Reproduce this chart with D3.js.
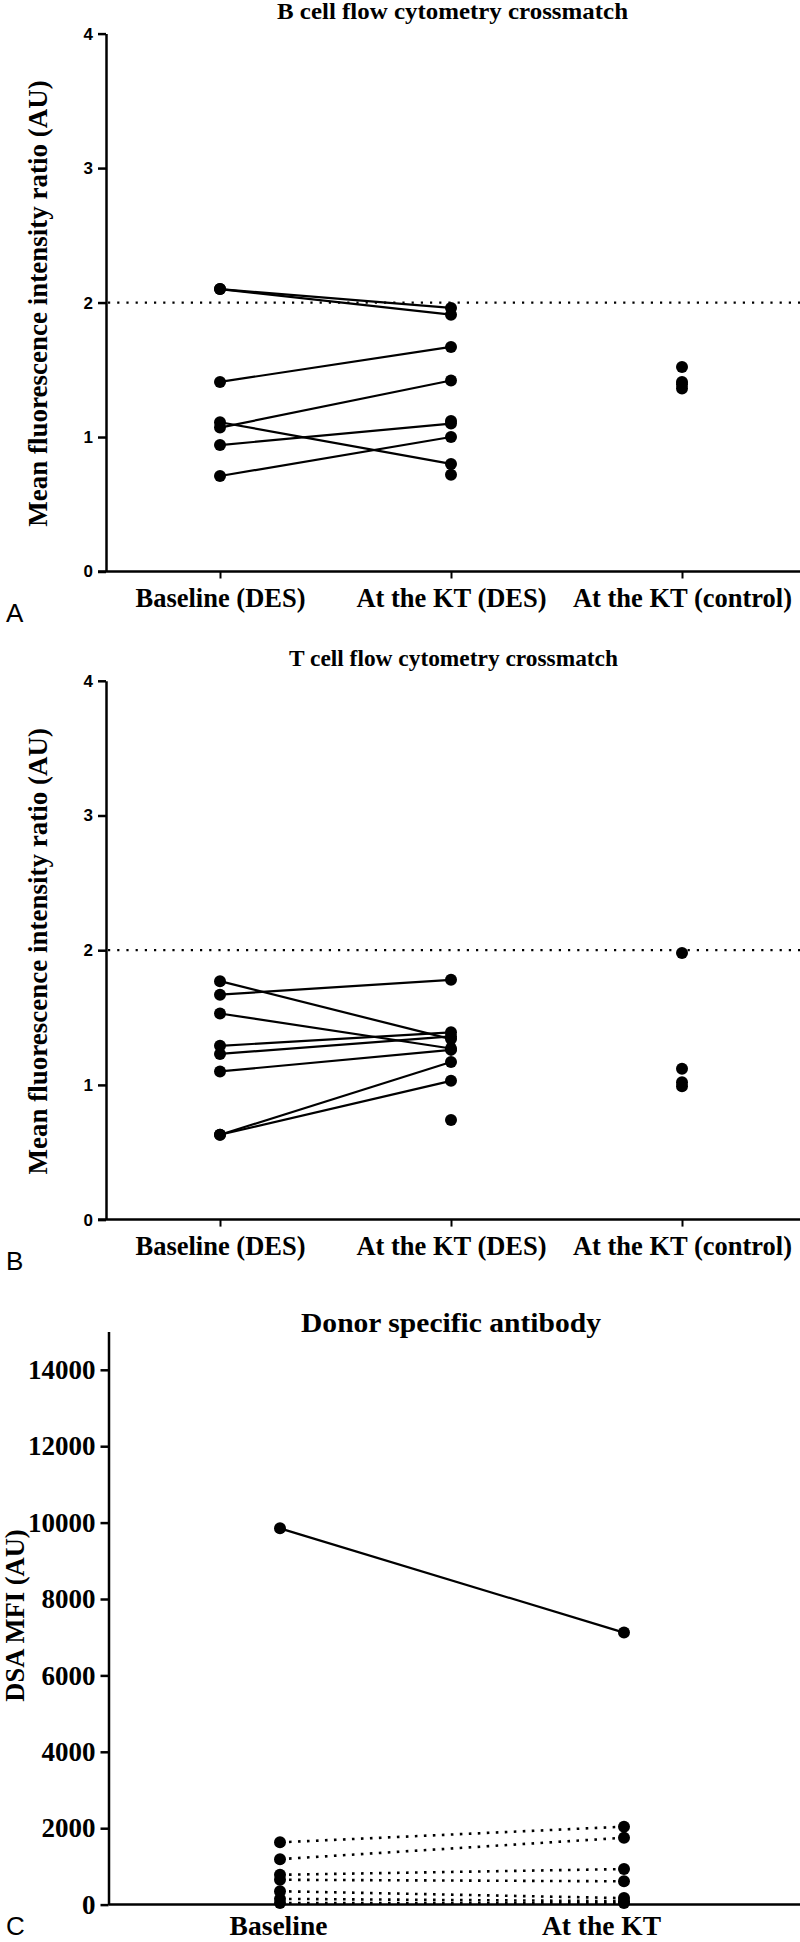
<!DOCTYPE html>
<html>
<head>
<meta charset="utf-8">
<script src="https://cdn.jsdelivr.net/npm/d3@7"></script>
<style>
  html, body { margin: 0; padding: 0; background: #fff; }
  svg { display: block; }
</style>
</head>
<body>
<svg id="chart" width="800" height="1942"></svg>
<script>
// ---------- Data ----------
const ratioCategories = ["Baseline (DES)", "At the KT (DES)", "At the KT (control)"];
const ratioTicks = [0, 1, 2, 3, 4];
const ratioThreshold = 2;

// Panel A: B cell flow cytometry crossmatch (paired DES patients)
const bCellBaseline = [2.10, 2.10, 1.41, 1.07, 1.11, 0.94, 0.71];
const bCellAtKT     = [1.96, 1.91, 1.67, 1.42, 0.80, 1.10, 1.00];
const bCellAtKTUnpaired = [1.12, 0.72];
const bCellControl  = [1.52, 1.41, 1.39, 1.36];

// Panel B: T cell flow cytometry crossmatch
const tCellBaseline = [1.67, 1.77, 1.53, 1.29, 1.23, 1.10, 0.63, 0.63];
const tCellAtKT     = [1.78, 1.34, 1.27, 1.39, 1.36, 1.26, 1.17, 1.03];
const tCellAtKTUnpaired = [0.74];
const tCellControl  = [1.98, 1.12, 1.02, 0.99];

// Panel C: Donor specific antibody
const dsaCategories = ["Baseline", "At the KT"];
const dsaTicks = [0, 2000, 4000, 6000, 8000, 10000, 12000, 14000];
const dsaBaseline = [9850, 1630, 1190, 780, 650, 350, 150, 40];
const dsaAtKT     = [7120, 2040, 1750, 930, 610, 170, 90, 40];
const dsaLineType = ["solid", "dotted", "dotted", "dotted", "dotted", "dotted", "dotted", "dotted"];

// ---------- Drawing ----------
const svg = d3.select("#chart");
const serif = "'Liberation Serif', 'Times New Roman', serif";
const sans = "'Liberation Sans', Arial, sans-serif";
const R = 6;

function ratioPanel(opt) {
  const g = svg.append("g");
  const x = d3.scalePoint().domain(ratioCategories).range([220, 682]);
  const y = d3.scaleLinear().domain([0, 4]).range([opt.y0, opt.y4]);
  const axX = 106;

  // y axis
  const yAxis = d3.axisLeft(y).tickValues(ratioTicks).tickFormat(d3.format("d"))
    .tickSize(8).tickSizeOuter(0).tickPadding(5);
  const ya = g.append("g").attr("transform", `translate(${axX},0)`).call(yAxis);
  ya.select(".domain").attr("stroke", "#000").attr("stroke-width", 2.5);
  ya.selectAll(".tick line").attr("stroke", "#000").attr("stroke-width", 2.5);
  ya.selectAll(".tick text").attr("font-family", sans).attr("font-weight", "bold")
    .attr("font-size", 17).attr("fill", "#000");

  // x axis
  const xAxis = d3.axisBottom(x).tickSize(7).tickSizeOuter(0).tickPadding(10);
  const xa = g.append("g").attr("transform", `translate(0,${y(0)})`).call(xAxis);
  xa.select(".domain").remove();
  xa.append("line").attr("x1", axX - 8).attr("x2", 800).attr("y1", 0).attr("y2", 0)
    .attr("stroke", "#000").attr("stroke-width", 2.5);
  xa.selectAll(".tick line").attr("stroke", "#000").attr("stroke-width", 2);
  xa.selectAll(".tick text").attr("font-family", serif).attr("font-weight", "bold")
    .attr("font-size", 26.5).attr("fill", "#000").attr("dy", "0.71em");

  // threshold
  g.append("line").attr("x1", axX + 2).attr("x2", 800)
    .attr("y1", y(ratioThreshold)).attr("y2", y(ratioThreshold))
    .attr("stroke", "#000").attr("stroke-width", 2.2).attr("stroke-dasharray", "2.2,7");

  // paired lines
  const pairs = opt.base.map((b, i) => [b, opt.kt[i]]);
  g.selectAll("line.pair").data(pairs).enter().append("line").attr("class", "pair")
    .attr("x1", x(ratioCategories[0])).attr("x2", x(ratioCategories[1]))
    .attr("y1", d => y(d[0])).attr("y2", d => y(d[1]))
    .attr("stroke", "#000").attr("stroke-width", 2.2);

  const pts = [];
  opt.base.forEach(v => pts.push([ratioCategories[0], v]));
  opt.kt.forEach(v => pts.push([ratioCategories[1], v]));
  opt.ktUnpaired.forEach(v => pts.push([ratioCategories[1], v]));
  opt.control.forEach(v => pts.push([ratioCategories[2], v]));
  g.selectAll("circle").data(pts).enter().append("circle")
    .attr("cx", d => x(d[0])).attr("cy", d => y(d[1])).attr("r", R).attr("fill", "#000");

  // title
  g.append("text").attr("x", opt.titleX).attr("y", opt.titleY).attr("text-anchor", "middle")
    .attr("font-family", serif).attr("font-weight", "bold").attr("font-size", 23)
    .attr("textLength", opt.titleLen).attr("lengthAdjust", "spacingAndGlyphs")
    .text(opt.title);

  // y title
  g.append("text").attr("transform", `translate(47,${(opt.y0 + opt.y4) / 2 + 1}) rotate(-90)`)
    .attr("text-anchor", "middle").attr("font-family", serif).attr("font-weight", "bold")
    .attr("font-size", 27).text("Mean fluorescence intensity ratio (AU)");

  // panel letter
  g.append("text").attr("x", 6).attr("y", opt.y0 + 50).attr("font-family", sans)
    .attr("font-size", 26).text(opt.letter);
}

ratioPanel({
  base: bCellBaseline, kt: bCellAtKT, ktUnpaired: bCellAtKTUnpaired, control: bCellControl,
  y0: 571.5, y4: 33.6, title: "B cell flow cytometry crossmatch",
  titleX: 452.5, titleY: 18.5, titleLen: 351, letter: "A"
});
ratioPanel({
  base: tCellBaseline, kt: tCellAtKT, ktUnpaired: tCellAtKTUnpaired, control: tCellControl,
  y0: 1219.6, y4: 680.8, title: "T cell flow cytometry crossmatch",
  titleX: 453.5, titleY: 666, titleLen: 329, letter: "B"
});

// Panel C
(function () {
  const g = svg.append("g");
  const x = d3.scalePoint().domain(dsaCategories).range([280, 624]);
  const y = d3.scaleLinear().domain([0, 15000]).range([1904.6, 1331.6]);
  const axX = 108.5;

  const yAxis = d3.axisLeft(y).tickValues(dsaTicks).tickFormat(d3.format("d"))
    .tickSize(8).tickSizeOuter(0).tickPadding(5);
  const ya = g.append("g").attr("transform", `translate(${axX},0)`).call(yAxis);
  ya.select(".domain").attr("stroke", "#000").attr("stroke-width", 2.5);
  ya.selectAll(".tick line").attr("stroke", "#000").attr("stroke-width", 2.5);
  ya.selectAll(".tick text").attr("font-family", serif).attr("font-weight", "bold")
    .attr("font-size", 27).attr("fill", "#000");

  const xAxis = d3.axisBottom(x).tickSize(0).tickSizeOuter(0).tickPadding(11);
  const xa = g.append("g").attr("transform", `translate(0,${y(0)})`).call(xAxis);
  xa.select(".domain").remove();
  xa.append("line").attr("x1", axX).attr("x2", 800).attr("y1", 0).attr("y2", 0)
    .attr("stroke", "#000").attr("stroke-width", 2.5);
  const shift = [-2, -23];
  xa.selectAll(".tick text").attr("font-family", serif).attr("font-weight", "bold")
    .attr("font-size", 27.5).attr("fill", "#000").attr("dy", "0.71em")
    .attr("dx", (d, i) => shift[i]);

  const pairs = dsaBaseline.map((b, i) => ({ b, k: dsaAtKT[i], t: dsaLineType[i] }));
  g.selectAll("line.pair").data(pairs).enter().append("line").attr("class", "pair")
    .attr("x1", x(dsaCategories[0])).attr("x2", x(dsaCategories[1]))
    .attr("y1", d => y(d.b)).attr("y2", d => y(d.k))
    .attr("stroke", "#000")
    .attr("stroke-width", d => d.t === "solid" ? 2.2 : 2.6)
    .attr("stroke-dasharray", d => d.t === "solid" ? null : "2.6,6.4");

  const pts = [];
  dsaBaseline.forEach(v => pts.push([dsaCategories[0], v]));
  dsaAtKT.forEach(v => pts.push([dsaCategories[1], v]));
  g.selectAll("circle").data(pts).enter().append("circle")
    .attr("cx", d => x(d[0])).attr("cy", d => y(d[1])).attr("r", R).attr("fill", "#000");

  g.append("text").attr("x", 451).attr("y", 1332).attr("text-anchor", "middle")
    .attr("font-family", serif).attr("font-weight", "bold").attr("font-size", 27)
    .attr("textLength", 300).attr("lengthAdjust", "spacingAndGlyphs")
    .text("Donor specific antibody");

  g.append("text").attr("transform", `translate(24,1615.5) rotate(-90)`)
    .attr("text-anchor", "middle").attr("font-family", serif).attr("font-weight", "bold")
    .attr("font-size", 26.5).text("DSA MFI (AU)");

  g.append("text").attr("x", 6).attr("y", 1935).attr("font-family", sans)
    .attr("font-size", 26).text("C");
})();
</script>
</body>
</html>
